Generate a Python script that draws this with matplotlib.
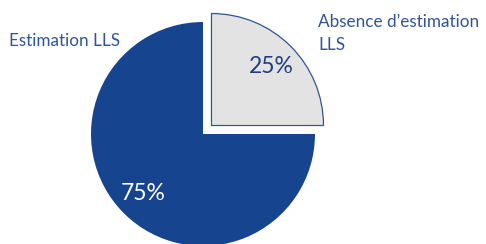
import matplotlib
matplotlib.use("Agg")
import math
import matplotlib.pyplot as plt

categories = ["Absence d\u2019estimation\nLLS", "Estimation LLS"]
values = [25, 75]
pct_labels = ["25%", "75%"]

W, H = 486, 244
fig = plt.figure(figsize=(W / 100, H / 100), dpi=100)
ax = fig.add_axes([0, 0, 1, 1])

blue = "#17448F"
gray = "#E3E3E3"
label_col = "#2F5597"

wedges, texts = ax.pie(values, colors=[gray, blue], startangle=0, counterclock=True,
                       center=(203, H - 134), radius=112, explode=[12, 0],
                       wedgeprops=dict(linewidth=0), frame=True)
ax.set_xlim(0, W)
ax.set_ylim(0, H)
ax.set_aspect("equal")
ax.axis("off")
wedges[0].set_edgecolor("#2F5597")
wedges[0].set_linewidth(0.9)

# percentage labels
for w, txt, col in zip(wedges, pct_labels, ["#1F3F80", "white"]):
    th = math.radians((w.theta1 + w.theta2) / 2)
    cx, cy = w.center
    r = w.r * 0.75
    ax.text(cx + r * math.cos(th), cy + r * math.sin(th), txt, ha="center", va="center",
            fontsize=16.5, color=col, family="Lato")

ax.text(9, H - 41, categories[1], ha="left", va="center", fontsize=12.3,
        color=label_col, family="Lato")
ax.text(318, H - 33.5, categories[0], ha="left", va="center", fontsize=12.3,
        color=label_col, family="Lato", linespacing=1.6)

fig.savefig("out.png", dpi=100)
